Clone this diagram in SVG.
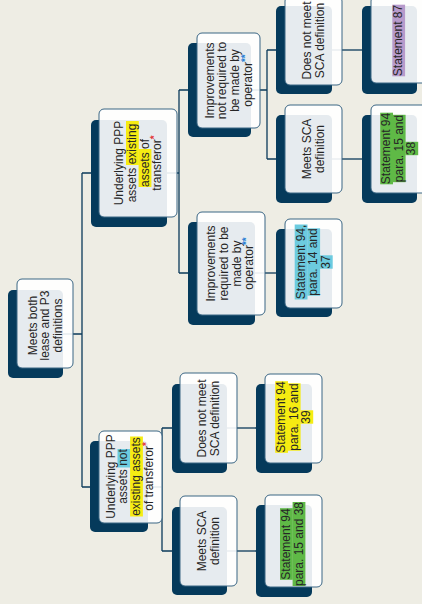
<svg xmlns="http://www.w3.org/2000/svg" width="422" height="604" viewBox="0 0 422 604">
<style>
.sh{fill:#053a5b}
.bx{fill:#fff;fill-opacity:.9;stroke:#3a6684;stroke-width:1}
.t{font-family:"Liberation Sans",Arial,sans-serif;font-size:12px;fill:#262626;text-anchor:middle}
.c{stroke:#0b3a5a;stroke-width:1.3;fill:none}
.hy{fill:#f6ec12}.hc{fill:#6ccbdf}.hg{fill:#5fb946}.hp{fill:#b79acb}
.ar{fill:#e23b3b;font-size:10px;font-weight:bold}.ab{fill:#2b7fd4;font-size:10px;font-weight:bold}
</style>
<rect width="422" height="604" fill="#eeede4"/>
<g id="connectors">
<path class="c" d="M63 334H82M82 173V487M82 173H91M82 487H90"/>
<path class="c" d="M167 173H179M179 90V273M179 90H188M179 273H188"/>
<path class="c" d="M251 90H267M267 50V159M267 50H276M267 159H276"/>
<path class="c" d="M332 50H362"/>
<path class="c" d="M332 159H362"/>
<path class="c" d="M255 273H276"/>
<path class="c" d="M148 487H162M162 428V551M162 428H172M162 551H172"/>
<path class="c" d="M227 428H256"/>
<path class="c" d="M227 551H256"/>
</g>
<g id="root">
<rect class="sh" x="8" y="290" width="55" height="88" rx="5"/>
<rect class="bx" x="17" y="279" width="56" height="89" rx="5"/>
<g transform="translate(45,325.5) rotate(-90)"><text class="t"><tspan x="0" y="-8.4">Meets both</tspan><tspan x="0" y="4.2">lease and P3</tspan><tspan x="0" y="16.8">definitions</tspan></text></g>
</g>
<g id="existing">
<rect class="sh" x="91" y="120" width="76" height="107" rx="5"/>
<rect class="bx" x="99" y="109" width="78" height="108" rx="5"/>
<g transform="translate(138,163) rotate(-90)">
<rect class="hy" x="-2" y="-12" width="44" height="12.8"/>
<rect class="hy" x="-24" y="0.6" width="38" height="12.8"/>
<text class="t"><tspan x="0" y="-14.7">Underlying PPP</tspan><tspan x="0" y="-2.1">assets existing</tspan><tspan x="0" y="10.5">assets of</tspan><tspan x="0" y="23.1">transferor<tspan class="ar" dy="-3">*</tspan></tspan></text>
</g>
</g>
<g id="not-existing">
<rect class="sh" x="90" y="441" width="58" height="91" rx="5"/>
<rect class="bx" x="99" y="431" width="63" height="92" rx="5"/>
<g transform="translate(129.5,476.5) rotate(-90)">
<rect class="hc" x="9" y="-12" width="18.5" height="12.8"/>
<rect class="hy" x="-40" y="0.6" width="80" height="12.8"/>
<text class="t"><tspan x="0" y="-14.7">Underlying PPP</tspan><tspan x="0" y="-2.1">assets not</tspan><tspan x="0" y="10.5">existing assets</tspan><tspan x="0" y="23.1">of transferor<tspan class="ar" dy="-3">*</tspan></tspan></text>
</g>
</g>
<g id="impr-not-required">
<rect class="sh" x="188" y="43" width="63" height="94" rx="5"/>
<rect class="bx" x="197" y="33" width="63" height="95" rx="5"/>
<g transform="translate(228.5,80.5) rotate(-90)"><text class="t"><tspan x="0" y="-14.7">Improvements</tspan><tspan x="0" y="-2.1">not required to</tspan><tspan x="0" y="10.5">be made by</tspan><tspan x="0" y="23.1">operator<tspan class="ab" dy="-3">**</tspan></tspan></text></g>
</g>
<g id="impr-required">
<rect class="sh" x="188" y="222" width="67" height="103" rx="5"/>
<rect class="bx" x="197" y="212" width="68" height="103" rx="5"/>
<g transform="translate(230,263.5) rotate(-90)"><text class="t"><tspan x="0" y="-14.7">Improvements</tspan><tspan x="0" y="-2.1">required to be</tspan><tspan x="0" y="10.5">made by</tspan><tspan x="0" y="23.1">operator<tspan class="ab" dy="-3">**</tspan></tspan></text></g>
</g>
<g id="not-meet-sca-1">
<rect class="sh" x="276" y="6" width="56" height="88" rx="5"/>
<rect class="bx" x="285" y="-4" width="57" height="89" rx="5"/>
<g transform="translate(313,40.5) rotate(-90)"><text class="t"><tspan x="0" y="-2.1">Does not meet</tspan><tspan x="0" y="10.5">SCA definition</tspan></text></g>
</g>
<g id="meets-sca-1">
<rect class="sh" x="276" y="115" width="56" height="88" rx="5"/>
<rect class="bx" x="285" y="105" width="57" height="88" rx="5"/>
<g transform="translate(313,149) rotate(-90)"><text class="t"><tspan x="0" y="-2.1">Meets SCA</tspan><tspan x="0" y="10.5">definition</tspan></text></g>
</g>
<g id="statement-87">
<rect class="sh" x="362" y="6" width="55" height="88" rx="5"/>
<rect class="bx" x="371" y="-4" width="57" height="87" rx="5"/>
<g transform="translate(398,40.5) rotate(-90)">
<rect class="hp" x="-35.8" y="-5.7" width="71.6" height="12.8"/>
<text class="t"><tspan x="0" y="4.2">Statement 87</tspan></text>
</g>
</g>
<g id="statement-94-15-38-a">
<rect class="sh" x="362" y="115" width="55" height="88" rx="5"/>
<rect class="bx" x="371" y="105" width="57" height="88" rx="5"/>
<g transform="translate(398.5,148.5) rotate(-90)">
<rect class="hg" x="-35.8" y="-18.3" width="71.6" height="12.8"/>
<rect class="hg" x="-33.7" y="-5.7" width="67.4" height="12.8"/>
<rect class="hg" x="-6.7" y="6.9" width="13.4" height="12.8"/>
<text class="t"><tspan x="0" y="-8.4">Statement 94</tspan><tspan x="0" y="4.2">para. 15 and</tspan><tspan x="0" y="16.8">38</tspan></text>
</g>
</g>
<g id="statement-94-14-37">
<rect class="sh" x="276" y="229" width="56" height="88" rx="5"/>
<rect class="bx" x="285" y="219" width="57" height="89" rx="5"/>
<g transform="translate(313,262) rotate(-90)">
<rect class="hc" x="-37.5" y="-18.3" width="75" height="12.8"/>
<rect class="hc" x="-33.7" y="-5.7" width="67.4" height="12.8"/>
<rect class="hc" x="-6.7" y="6.9" width="13.4" height="12.8"/>
<text class="t"><tspan x="0" y="-8.4">Statement 94,</tspan><tspan x="0" y="4.2">para. 14 and</tspan><tspan x="0" y="16.8">37</tspan></text>
</g>
</g>
<g id="not-meet-sca-2">
<rect class="sh" x="172" y="384" width="55" height="89" rx="5"/>
<rect class="bx" x="180" y="373" width="57" height="90" rx="5"/>
<g transform="translate(208.5,418.5) rotate(-90)"><text class="t"><tspan x="0" y="-2.1">Does not meet</tspan><tspan x="0" y="10.5">SCA definition</tspan></text></g>
</g>
<g id="meets-sca-2">
<rect class="sh" x="172" y="507" width="55" height="88" rx="5"/>
<rect class="bx" x="180" y="496" width="57" height="90" rx="5"/>
<g transform="translate(208.5,541) rotate(-90)"><text class="t"><tspan x="0" y="-2.1">Meets SCA</tspan><tspan x="0" y="10.5">definition</tspan></text></g>
</g>
<g id="statement-94-16-39">
<rect class="sh" x="256" y="384" width="56" height="89" rx="5"/>
<rect class="bx" x="265" y="374" width="57" height="89" rx="5"/>
<g transform="translate(293.5,417) rotate(-90)">
<rect class="hy" x="-35.8" y="-18.3" width="71.6" height="12.8"/>
<rect class="hy" x="-33.7" y="-5.7" width="67.4" height="12.8"/>
<rect class="hy" x="-6.7" y="6.9" width="13.4" height="12.8"/>
<text class="t"><tspan x="0" y="-8.4">Statement 94</tspan><tspan x="0" y="4.2">para. 16 and</tspan><tspan x="0" y="16.8">39</tspan></text>
</g>
</g>
<g id="statement-94-15-38-b">
<rect class="sh" x="256" y="505" width="56" height="92" rx="5"/>
<rect class="bx" x="265" y="495" width="57" height="92" rx="5"/>
<g transform="translate(292,544) rotate(-90)">
<rect class="hg" x="-35.8" y="-12" width="71.6" height="12.8"/>
<rect class="hg" x="-42" y="0.6" width="84" height="12.8"/>
<text class="t"><tspan x="0" y="-2.1">Statement 94</tspan><tspan x="0" y="10.5">para. 15 and 38</tspan></text>
</g>
</g>
</svg>
